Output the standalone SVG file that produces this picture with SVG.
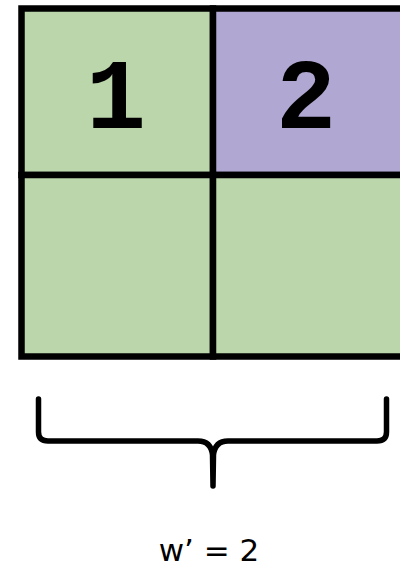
<svg xmlns="http://www.w3.org/2000/svg" width="400" height="567" viewBox="0 0 400 567">
<style>
.cell{stroke:#000;stroke-width:6.5}
.g{fill:#BBD6AA}
.p{fill:#B1A7D3}
.num{font-family:"Liberation Mono",monospace;font-weight:bold;font-size:100px;text-anchor:middle;fill:#000}
.brace{fill:none;stroke:#000;stroke-width:5.5;stroke-linecap:round;stroke-linejoin:round}
.lbl{font-family:"DejaVu Sans",sans-serif;font-size:31px;text-anchor:middle;fill:#000}
</style>
<rect width="400" height="567" fill="#fff"/>
<g id="cell1"><rect class="cell g" x="21.5" y="8.5" width="191.5" height="166.5"/><text class="num" x="116" y="128">1</text></g>
<g id="cell2"><rect class="cell p" x="213" y="8.5" width="191.5" height="166.5"/><text class="num" x="306" y="128">2</text></g>
<g id="cell3"><rect class="cell g" x="21.5" y="175" width="191.5" height="181.5"/></g>
<g id="cell4"><rect class="cell g" x="213" y="175" width="191.5" height="181.5"/></g>
<g id="connectors">
<path class="brace" d="M38.5,399 L38.5,432 Q38.5,441 48,441 L198,441 Q211,441 212.5,455 L213,486 M213,486 L213.5,455 Q215,441 228,441 L377,441 Q386.5,441 386.5,432 L386.5,399"/>
</g>
<g id="label"><text class="lbl" x="209" y="561">w’ = 2</text></g>
</svg>
